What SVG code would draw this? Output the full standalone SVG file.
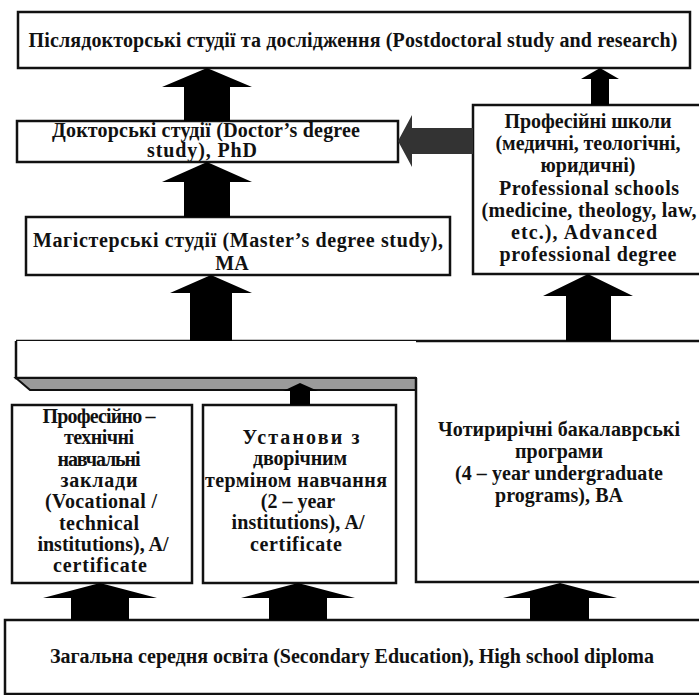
<svg xmlns="http://www.w3.org/2000/svg" width="699" height="695" viewBox="0 0 699 695">
<style>
.box{fill:#fff;stroke:#111;stroke-width:2.5}
.ln{fill:none;stroke:#111;stroke-width:2.5}
.arr{fill:#000}
.arrd{fill:#333}
text{font-family:"Liberation Serif","Times New Roman",serif;font-weight:bold;font-size:20px;fill:#111;text-anchor:middle}
</style>
<rect width="699" height="695" fill="#fff"/>

<g id="platform">
<path d="M16,341 H701" class="ln"/>
<rect x="16" y="341" width="400" height="37" fill="#fff" stroke="none"/>
<path d="M16,341 V378 H416" class="ln"/>
<polygon points="16,378 416,378 416,390 30,390" fill="#9a9a9a" stroke="#111" stroke-width="2"/>
</g>

<g id="undergrad">
<path d="M416,378 V582 H701" class="ln"/>
<text x="559" y="436" textLength="242">Чотирирічні бакалаврські</text>
<text x="559" y="458" textLength="88">програми</text>
<text x="559" y="480" textLength="208">(4 – year undergraduate</text>
<text x="559" y="502" textLength="128">programs), BA</text>
</g>

<g id="postdoc">
<rect x="18" y="12" width="672" height="56" class="box"/>
<text x="353" y="47" textLength="649">Післядокторські студії та дослідження (Postdoctoral study and research)</text>
</g>

<g id="doctor">
<rect x="17" y="121" width="381" height="41" class="box"/>
<text x="206" y="137" textLength="308">Докторські студії (Doctor’s degree</text>
<text x="202" y="157" textLength="110">study), PhD</text>
</g>

<g id="master">
<rect x="26" y="217" width="424" height="58" class="box"/>
<text x="238" y="247" textLength="410">Магістерські студії (Master’s degree study),</text>
<text x="232" y="270">MA</text>
</g>

<g id="professional">
<rect x="473" y="105" width="232" height="169" class="box"/>
<text x="588" y="128" textLength="167">Професійні школи</text>
<text x="588" y="150" textLength="185">(медичні, теологічні,</text>
<text x="588" y="172" textLength="95">юридичні)</text>
<text x="589" y="195" textLength="180">Professional schools</text>
<text x="589" y="217" textLength="215">(medicine, theology, law,</text>
<text x="584" y="239" textLength="146">etc.), Advanced</text>
<text x="588" y="261" textLength="177">professional degree</text>
</g>

<g id="vocational">
<rect x="12" y="405" width="180" height="178" class="box"/>
<text x="99" y="423" textLength="113">Професійно –</text>
<text x="99" y="444" textLength="70">технічні</text>
<text x="99" y="466" textLength="83">навчальні</text>
<text x="99" y="487" textLength="77">заклади</text>
<text x="101" y="508" textLength="112">(Vocational /</text>
<text x="99" y="530" textLength="80">technical</text>
<text x="103" y="551">institutions), A/</text>
<text x="100" y="572" textLength="94">certificate</text>
</g>

<g id="twoyear">
<rect x="203" y="405" width="193" height="178" class="box"/>
<text x="301" y="444" textLength="117">Установи з</text>
<text x="300" y="465" textLength="94">дворічним</text>
<text x="296" y="487" textLength="182">терміном навчання</text>
<text x="298" y="508">(2 – year</text>
<text x="298" y="529" textLength="133">institutions), A/</text>
<text x="296" y="551" textLength="92">certificate</text>
</g>

<g id="secondary">
<rect x="5" y="620" width="700" height="74" class="box"/>
<text x="352" y="663" textLength="604">Загальна середня освіта (Secondary Education), High school diploma</text>
</g>

<g id="connectors">
<polygon class="arr" points="184,121 184,87 162,87 207,68 252,87 230,87 230,121"/>
<polygon class="arr" points="184,217 184,182 162,182 207,162 252,182 230,182 230,217"/>
<polygon class="arr" points="190,341 190,293 170,293 211,275 252,293 232,293 232,341"/>
<polygon class="arr" points="566,341 566,296 543,296 588,274 633,296 611,296 611,341"/>
<polygon class="arr" points="591,105 591,79 581,79 600,68 619,79 609,79 609,105"/>
<polygon class="arrd" points="473,128 412,128 412,115 398,141 412,167 412,154 473,154"/>
<polygon class="arr" points="290,405 290,391 283,391 300,383 318,391 310,391 310,405"/>
<polygon class="arr" points="71,620 71,598 43,598 100,583 157,598 129,598 129,620"/>
<polygon class="arr" points="269,620 269,598 241,598 298,583 355,598 327,598 327,620"/>
<polygon class="arr" points="530,620 530,598 503,598 560,583 617,598 589,598 589,620"/>
</g>
</svg>
